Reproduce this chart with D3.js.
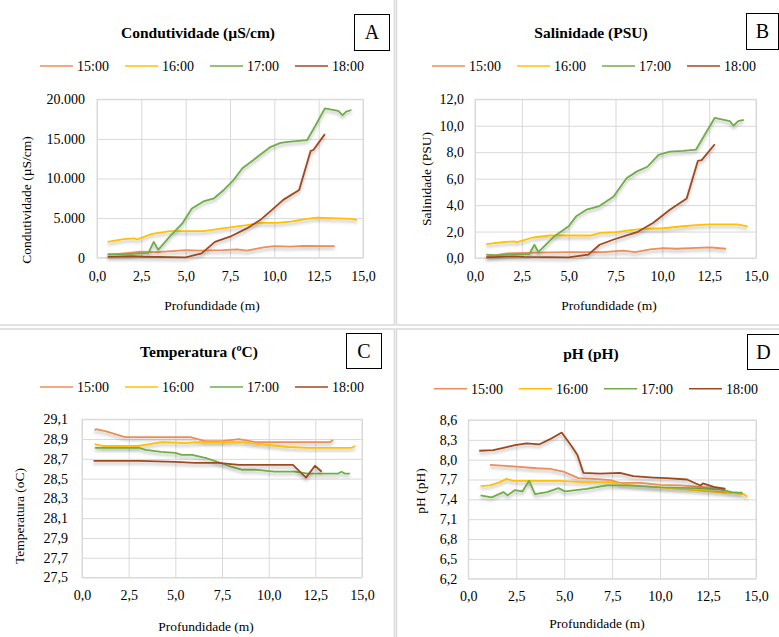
<!DOCTYPE html>
<html><head><meta charset="utf-8">
<script src="https://cdn.jsdelivr.net/npm/d3@7"></script>
<style>
html,body{margin:0;padding:0;background:#fff;}
svg{display:block;}
svg text{font-family:"Liberation Serif","Times New Roman",serif !important;fill:#000;}
</style></head>
<body>
<svg id="chart" width="779" height="637"></svg>
<script>
// ---- Data ----
const seriesNames = ["15:00", "16:00", "17:00", "18:00"];
const seriesColors = ["#EB8F5A", "#FFC000", "#70AD47", "#9E4A1F"];
const xTicks = [0, 2.5, 5, 7.5, 10, 12.5, 15];

// Condutividade (µS/cm) : [profundidade, valor]
const cond15 = [[0.6,350],[1.5,550],[2.45,750],[3.4,700],[5.0,950],[5.8,900],[7.1,950],[7.9,1050],[8.45,900],[9.4,1300],[10.0,1450],[10.9,1400],[11.65,1500],[13.4,1450]];
const cond16 = [[0.6,2000],[1.5,2350],[2.1,2450],[2.25,2300],[3.1,3000],[4.1,3350],[5.1,3350],[6.0,3350],[6.8,3600],[7.7,3900],[8.45,4100],[9.2,4400],[10.15,4400],[10.9,4550],[11.65,4850],[12.4,5050],[13.15,5000],[14.4,4900],[14.65,4750]];
const cond17 = [[0.6,460],[1.5,420],[2.9,600],[3.2,2000],[3.45,1000],[4.1,2650],[4.8,4300],[5.35,6200],[6.0,7100],[6.6,7500],[7.15,8550],[7.7,9800],[8.2,11300],[8.8,12300],[9.2,13000],[9.8,14000],[10.35,14500],[10.9,14650],[11.85,14850],[12.4,17000],[12.85,18850],[13.6,18550],[13.85,18000],[14.05,18450],[14.35,18650]];
const cond18 = [[0.6,100],[2.1,180],[2.6,120],[5.0,50],[5.9,550],[6.65,2000],[7.5,2650],[8.45,3700],[9.2,4750],[9.85,6000],[10.5,7300],[11.4,8550],[12.05,13500],[12.2,13600],[12.85,15600]];
const condTicks = [0, 5000, 10000, 15000, 20000];

// Salinidade (PSU)
const sal15 = [[0.6,0.1],[1.7,0.35],[3.3,0.4],[5.0,0.45],[6.85,0.45],[7.9,0.55],[8.55,0.45],[9.35,0.65],[10.05,0.75],[10.75,0.7],[11.5,0.75],[12.55,0.8],[13.4,0.7]];
const sal16 = [[0.6,1.05],[1.5,1.2],[2.05,1.25],[2.25,1.2],[3.1,1.55],[4.0,1.7],[5.05,1.7],[6.15,1.7],[6.7,1.9],[7.55,1.95],[8.3,2.1],[9.0,2.2],[10.05,2.25],[11.1,2.4],[12.0,2.5],[12.55,2.55],[14.0,2.55],[14.55,2.4]];
const sal17 = [[0.6,0.25],[1.15,0.2],[2.05,0.3],[2.9,0.3],[3.17,1.0],[3.38,0.45],[4.2,1.6],[5.0,2.4],[5.4,3.15],[5.95,3.65],[6.6,3.9],[7.4,4.65],[8.1,6.05],[8.65,6.55],[9.2,6.9],[9.8,7.8],[10.4,8.05],[11.1,8.1],[11.8,8.2],[12.8,10.6],[13.6,10.35],[13.8,10.0],[14.05,10.35],[14.35,10.45]];
const sal18 = [[0.6,0.05],[2.05,0.12],[2.6,0.08],[5.0,0.05],[6.05,0.25],[6.65,1.0],[7.4,1.4],[8.65,1.95],[9.5,2.65],[10.4,3.65],[11.3,4.5],[11.9,7.35],[12.1,7.4],[12.8,8.6]];
const salTicks = [0, 2, 4, 6, 8, 10, 12];

// Temperatura (ºC)
const temp15 = [[0.68,28.99],[0.75,29.0],[1.25,28.98],[1.78,28.95],[2.3,28.92],[3.6,28.92],[5.8,28.92],[6.6,28.88],[7.5,28.88],[8.4,28.9],[9.3,28.87],[10.4,28.87],[13.3,28.87],[13.45,28.89]];
const temp16 = [[0.68,28.85],[1.1,28.83],[3.0,28.83],[4.3,28.87],[5.5,28.86],[6.4,28.87],[8.5,28.87],[10.0,28.84],[11.05,28.82],[12.1,28.81],[14.4,28.81],[14.65,28.83]];
const temp17 = [[0.7,28.81],[1.9,28.81],[3.1,28.81],[3.4,28.79],[4.25,28.77],[5.0,28.76],[5.35,28.74],[5.9,28.74],[6.6,28.71],[7.1,28.68],[7.85,28.63],[8.55,28.59],[9.25,28.59],[10.3,28.57],[11.4,28.57],[12.1,28.55],[13.7,28.55],[13.9,28.57],[14.1,28.55],[14.35,28.55]];
const temp18 = [[0.62,28.68],[3.1,28.68],[5.0,28.67],[6.05,28.66],[7.3,28.66],[8.4,28.64],[11.3,28.64],[12.0,28.51],[12.48,28.63],[12.84,28.57]];
const tempTicks = [27.5, 27.7, 27.9, 28.1, 28.3, 28.5, 28.7, 28.9, 29.1];

// pH (pH)
const ph15 = [[1.13,7.92],[2.35,7.9],[3.57,7.87],[4.26,7.86],[4.96,7.82],[5.74,7.72],[6.52,7.71],[7.4,7.69],[7.9,7.65],[8.96,7.65],[10.0,7.62],[11.04,7.61],[12.1,7.59],[13.4,7.56]];
const ph16 = [[0.64,7.6],[1.13,7.61],[1.65,7.66],[2.0,7.71],[2.35,7.68],[4.8,7.68],[5.83,7.66],[7.4,7.66],[8.26,7.62],[10.0,7.58],[11.74,7.54],[13.5,7.5],[14.35,7.48],[14.55,7.44]];
const ph17 = [[0.64,7.46],[1.22,7.43],[1.83,7.51],[2.05,7.46],[2.43,7.54],[2.82,7.52],[3.17,7.68],[3.48,7.48],[4.1,7.51],[4.7,7.57],[5.04,7.52],[6.17,7.56],[7.22,7.61],[8.26,7.61],[10.0,7.58],[11.74,7.57],[13.13,7.55],[13.74,7.51],[14.1,7.5],[14.3,7.5]];
const ph18 = [[0.57,8.135],[1.3,8.145],[1.83,8.18],[2.43,8.22],[3.04,8.245],[3.69,8.23],[4.26,8.31],[4.87,8.41],[5.4,8.2],[5.69,8.07],[6.0,7.8],[6.87,7.79],[7.9,7.8],[8.6,7.75],[9.65,7.73],[10.35,7.72],[11.4,7.7],[12.1,7.61],[12.23,7.64],[12.8,7.59],[13.4,7.56]];
const phTicks = [6.2, 6.5, 6.8, 7.1, 7.4, 7.7, 8.0, 8.3, 8.6];

// ---- Formatting ----
const pt = d3.formatLocale({decimal: ",", thousands: ".", grouping: [3], currency: ["R$", ""]});
const fmtInt = pt.format(",.0f");
const fmt1 = pt.format(".1f");
const FONT = '"Liberation Serif","Times New Roman",serif';

const panels = [
  {letter:"A", title:"Condutividade (µS/cm)", yTitle:"Condutividade (µS/cm)",
   data:[cond15,cond16,cond17,cond18], yDomain:[0,20000], yTicks:condTicks, fmt:fmtInt,
   plot:{l:97,r:363,t:99.3,b:257.7}, box:{x:354,y:14,w:35,h:36},
   titleX:198, titleY:38, legX:40, legY:66, xTitleX:212, xTitleY:310, yTitleX:31, yTitleY:200, yLabGap:12, xLabDy:23},
  {letter:"B", title:"Salinidade (PSU)", yTitle:"Salinidade (PSU)",
   data:[sal15,sal16,sal17,sal18], yDomain:[0,12], yTicks:salTicks, fmt:fmt1,
   plot:{l:475,r:756,t:99.3,b:258}, box:{x:746,y:13,w:32,h:36},
   titleX:591, titleY:38, legX:432, legY:66, xTitleX:609, xTitleY:310, yTitleX:431, yTitleY:179, yLabGap:11, xLabDy:23},
  {letter:"C", title:"Temperatura (ºC)", yTitle:"Temperatura (oC)",
   data:[temp15,temp16,temp17,temp18], yDomain:[27.5,29.1], yTicks:tempTicks, fmt:fmt1,
   plot:{l:82,r:362,t:419.3,b:577.5}, box:{x:346,y:333,w:35,h:35},
   titleX:199, titleY:357, legX:40, legY:387, xTitleX:206, xTitleY:631, yTitleX:24, yTitleY:516, yLabGap:14, xLabDy:22},
  {letter:"D", title:"pH (pH)", yTitle:"pH (pH)",
   data:[ph15,ph16,ph17,ph18], yDomain:[6.2,8.6], yTicks:phTicks, fmt:fmt1,
   plot:{l:468.3,r:756,t:420,b:578.7}, box:{x:747,y:334,w:32,h:35},
   titleX:591, titleY:359, legX:434, legY:388.7, xTitleX:597, xTitleY:628, yTitleX:425, yTitleY:491, yLabGap:11, xLabDy:22}
];

const svg = d3.select("#chart");

// shadow filter
const defs = svg.append("defs");
const f = defs.append("filter").attr("id","shadow").attr("x","-10%").attr("y","-30%").attr("width","120%").attr("height","200%");
f.append("feDropShadow").attr("dx",0).attr("dy",2.5).attr("stdDeviation",1.6)
  .attr("flood-color","#000").attr("flood-opacity",0.28);

// panel frames
const frameColor = "#d9d9d9";
[[ -2, -2, 396.5, 327],[396.5,-2,385,327],[-2,329,396.5,312],[396.5,329,385,312]].forEach(r=>{
  svg.append("rect").attr("x",r[0]).attr("y",r[1]).attr("width",r[2]).attr("height",r[3])
    .attr("fill","none").attr("stroke",frameColor).attr("stroke-width",1.5);
});

panels.forEach(p => {
  const g = svg.append("g").attr("font-family",FONT);
  const x = d3.scaleLinear().domain([0,15]).range([p.plot.l, p.plot.r]);
  const y = d3.scaleLinear().domain(p.yDomain).range([p.plot.b, p.plot.t]);

  // gridlines via axes
  const gx = g.append("g").attr("transform",`translate(0,${p.plot.b})`)
    .call(d3.axisBottom(x).tickValues(xTicks).tickSize(-(p.plot.b-p.plot.t)).tickFormat(d=>fmt1(d)).tickPadding(0));
  gx.attr("font-family",FONT).attr("font-size",14);
  gx.select(".domain").remove();
  gx.selectAll("line").attr("stroke","#d9d9d9").attr("stroke-width",1);
  gx.selectAll("text").attr("y",p.xLabDy).attr("dy",null).attr("fill","#000");

  const gy = g.append("g").attr("transform",`translate(${p.plot.l},0)`)
    .call(d3.axisLeft(y).tickValues(p.yTicks).tickSize(-(p.plot.r-p.plot.l)).tickFormat(p.fmt).tickPadding(p.yLabGap));
  gy.attr("font-family",FONT).attr("font-size",14);
  gy.select(".domain").remove();
  gy.selectAll("line").attr("stroke","#d9d9d9").attr("stroke-width",1);
  gy.selectAll("text").attr("fill","#000");

  // plot border
  g.append("rect").attr("x",p.plot.l).attr("y",p.plot.t).attr("width",p.plot.r-p.plot.l)
    .attr("height",p.plot.b-p.plot.t).attr("fill","none").attr("stroke","#d9d9d9").attr("stroke-width",1);

  // lines
  const line = d3.line().x(d=>x(d[0])).y(d=>y(d[1]));
  p.data.forEach((s,i) => {
    g.append("path").datum(s).attr("d",line).attr("fill","none")
      .attr("stroke",seriesColors[i]).attr("stroke-width",1.8)
      .attr("stroke-linejoin","round").attr("filter","url(#shadow)");
  });

  // title
  g.append("text").attr("x",p.titleX).attr("y",p.titleY).attr("text-anchor","middle")
    .attr("font-size","15.5px").attr("font-weight","bold").text(p.title);

  // letter box
  g.append("rect").attr("x",p.box.x+0.5).attr("y",p.box.y+0.5).attr("width",p.box.w).attr("height",p.box.h)
    .attr("fill","#fff").attr("stroke","#000").attr("stroke-width",1);
  g.append("text").attr("x",p.box.x+p.box.w/2+0.5).attr("y",p.box.y+p.box.h/2+7)
    .attr("text-anchor","middle").attr("font-size","20px").text(p.letter);

  // legend
  seriesNames.forEach((n,i) => {
    const lx = p.legX + i*85;
    g.append("line").attr("x1",lx).attr("x2",lx+33).attr("y1",p.legY).attr("y2",p.legY)
      .attr("stroke",seriesColors[i]).attr("stroke-width",1.6);
    g.append("text").attr("x",lx+37).attr("y",p.legY+5).attr("font-size","14px").text(n);
  });

  // axis titles
  g.append("text").attr("x",p.xTitleX).attr("y",p.xTitleY).attr("text-anchor","middle")
    .attr("font-size","13.5px").text("Profundidade (m)");
  g.append("text").attr("transform",`translate(${p.yTitleX},${p.yTitleY}) rotate(-90)`)
    .attr("text-anchor","middle").attr("font-size","13.5px").text(p.yTitle);
});
</script>
</body></html>
